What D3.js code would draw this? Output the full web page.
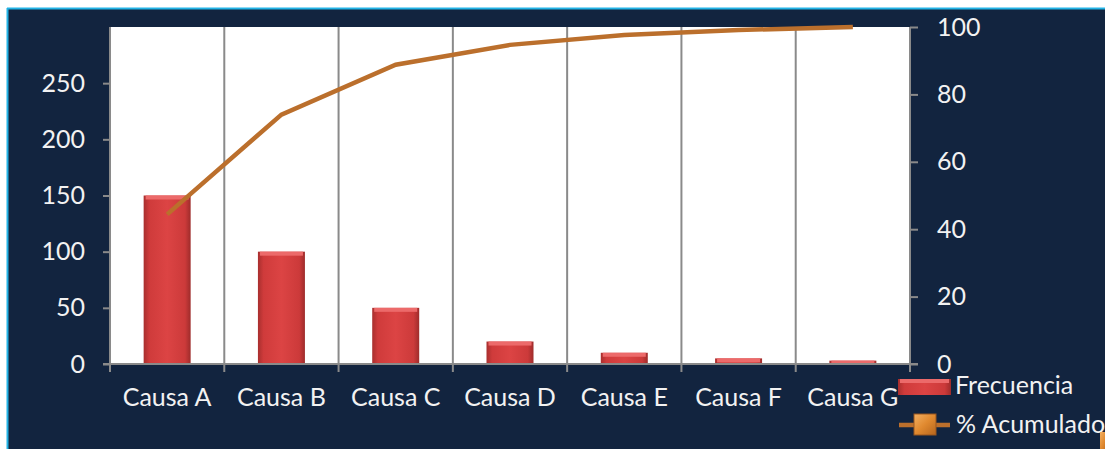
<!DOCTYPE html>
<html><head><meta charset="utf-8">
<script src="https://cdn.jsdelivr.net/npm/d3@7"></script>
<style>
html,body{margin:0;padding:0;background:#fff;overflow:hidden;}
svg{display:block;}
text{font-family:Lato,"Open Sans",sans-serif;}
</style></head>
<body>
<script>
const categories = ["Causa A","Causa B","Causa C","Causa D","Causa E","Causa F","Causa G"];
const frecuencia = [150,100,50,20,10,5,3];
const acumulado = [44.4,74.0,88.8,94.7,97.6,99.1,100];
const leftTicks = [0,50,100,150,200,250];
const rightTicks = [0,20,40,60,80,100];

const W=1105,H=449;
const FS="25px", FF="Lato,'Open Sans',sans-serif", TC="#f2f2f2";
const svg=d3.select("body").append("svg").attr("width",W).attr("height",H);
const defs=svg.append("defs");
const g1=defs.append("linearGradient").attr("id","barH").attr("x1","0").attr("x2","1").attr("y1","0").attr("y2","0");
[[0,"#a82f2e"],[0.12,"#cf3b3b"],[0.5,"#dc4444"],[0.88,"#cc3a3a"],[1,"#9e2c2b"]].forEach(d=>g1.append("stop").attr("offset",d[0]).attr("stop-color",d[1]));
const g2=defs.append("linearGradient").attr("id","mk").attr("x1","0").attr("x2","1").attr("y1","0").attr("y2","1");
[[0,"#f3b062"],[0.5,"#e0892f"],[1,"#b5651d"]].forEach(d=>g2.append("stop").attr("offset",d[0]).attr("stop-color",d[1]));

// background
svg.append("rect").attr("x",7).attr("y",8).attr("width",W-7).attr("height",H-8).attr("fill","#12243f");
svg.append("line").attr("x1",7).attr("x2",W).attr("y1",8.5).attr("y2",8.5).attr("stroke","#22b3e6").attr("stroke-width",2);
svg.append("line").attr("x1",7.5).attr("x2",7.5).attr("y1",8).attr("y2",H).attr("stroke","#22b3e6").attr("stroke-width",2);

const L=110,R=910,T=27,B=364;
svg.append("rect").attr("x",L).attr("y",T).attr("width",R-L).attr("height",B-T).attr("fill","#fff");

const x=d3.scaleBand().domain(categories).range([L,R]).paddingInner(0).paddingOuter(0);
const yL=d3.scaleLinear().domain([0,300]).range([B,T]);
const yR=d3.scaleLinear().domain([0,100]).range([B,T]);

// vertical gridlines
const gx=categories.map(c=>x(c)).concat([R]);
svg.append("g").selectAll("line").data(gx.slice(1,-1)).join("line")
 .attr("x1",d=>d).attr("x2",d=>d).attr("y1",T).attr("y2",B).attr("stroke","#8a8a8a").attr("stroke-width",2);

// bars
const bw=47;
const bars=svg.append("g").selectAll("g").data(categories).join("g");
bars.append("rect").attr("x",c=>x(c)+x.bandwidth()/2-bw/2).attr("y",(c,i)=>yL(frecuencia[i]))
 .attr("width",bw).attr("height",(c,i)=>B-yL(frecuencia[i])).attr("fill","url(#barH)");
bars.append("rect").attr("x",c=>x(c)+x.bandwidth()/2-bw/2+2).attr("y",(c,i)=>yL(frecuencia[i]))
 .attr("width",bw-4).attr("height",(c,i)=>Math.min(4,B-yL(frecuencia[i]))).attr("fill","#ec6a6a");

// axes
const axC="#8a8a8a";
const left=svg.append("g").attr("transform",`translate(${L},0)`).call(d3.axisLeft(yL).tickValues(leftTicks).tickSize(7).tickPadding(18));
const right=svg.append("g").attr("transform",`translate(${R},0)`).call(d3.axisRight(yR).tickValues(rightTicks).tickSize(8).tickPadding(19));
const bottom=svg.append("g").attr("transform",`translate(0,${B})`).call(d3.axisBottom(x).tickValues([]).tickSize(0));
[left,right,bottom].forEach(a=>{
 a.select(".domain").attr("stroke",axC).attr("stroke-width",2);
 a.selectAll(".tick line").attr("stroke",axC).attr("stroke-width",2);
 a.selectAll("text").attr("fill",TC).style("font-size",FS).style("font-family",FF);
});
left.select(".domain").attr("d",`M0,${T}V${B}`);
right.select(".domain").attr("d",`M0,${T}V${B}`);
bottom.select(".domain").attr("d",`M${L-7},0H${R+8}`);
// bottom tick marks
svg.append("g").selectAll("line").data(gx).join("line")
 .attr("x1",d=>d).attr("x2",d=>d).attr("y1",B).attr("y2",B+8).attr("stroke",axC).attr("stroke-width",2);
// category labels
svg.append("g").selectAll("text").data(categories).join("text")
 .attr("x",c=>x(c)+x.bandwidth()/2).attr("y",406).attr("text-anchor","middle")
 .attr("fill",TC).style("font-size",FS).text(c=>c);

// line
const line=d3.line().x((d,i)=>x(categories[i])+x.bandwidth()/2).y(d=>yR(d));
svg.append("path").datum(acumulado).attr("d",line).attr("fill","none").attr("stroke","#bb6f2c").attr("stroke-width",4.5);

// legend
svg.append("rect").attr("x",898).attr("y",379).attr("width",53).attr("height",16).attr("fill","url(#barH)");
svg.append("rect").attr("x",900).attr("y",379).attr("width",49).attr("height",4).attr("fill","#ec6a6a");
svg.append("text").attr("x",955).attr("y",394).attr("fill",TC).style("font-size",FS).text("Frecuencia");
svg.append("line").attr("x1",899).attr("x2",950).attr("y1",425).attr("y2",425).attr("stroke","#bb6f2c").attr("stroke-width",4.5);
svg.append("rect").attr("x",914).attr("y",414).attr("width",22).attr("height",21).attr("fill","url(#mk)").attr("stroke","#9a561e").attr("stroke-width",1);
svg.append("text").attr("x",956).attr("y",433).attr("fill",TC).style("font-size",FS).text("% Acumulado");
svg.append("rect").attr("x",1100).attr("y",432).attr("width",8).attr("height",20).attr("fill","url(#mk)");
</script>
</body></html>
